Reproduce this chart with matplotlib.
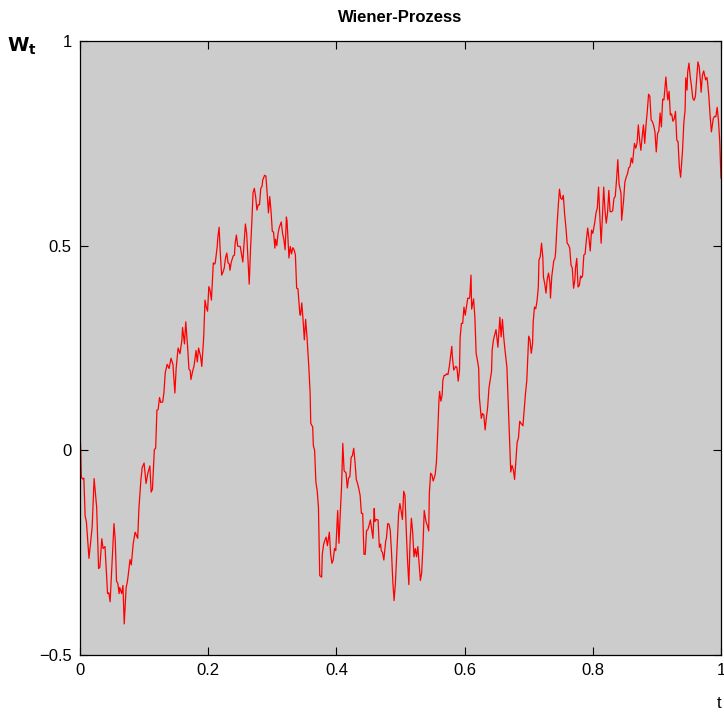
import matplotlib
import matplotlib.pyplot as plt
import numpy as np

matplotlib.use("Agg")

plt.rcParams["font.family"] = ["Liberation Sans", "DejaVu Sans"]

t = [
    0.000, 0.001, 0.002, 0.004, 0.006, 0.008, 0.010, 0.014, 0.019, 0.022,
    0.026, 0.029, 0.031, 0.034, 0.036, 0.039, 0.043, 0.045, 0.047, 0.053,
    0.055, 0.057, 0.059, 0.061, 0.062, 0.065, 0.067, 0.069, 0.072, 0.074,
    0.076, 0.078, 0.080, 0.083, 0.086, 0.090, 0.092, 0.095, 0.097, 0.100,
    0.103, 0.106, 0.109, 0.111, 0.113, 0.116, 0.118, 0.120, 0.122, 0.124,
    0.126, 0.129, 0.131, 0.133, 0.136, 0.139, 0.142, 0.145, 0.148, 0.150,
    0.153, 0.156, 0.159, 0.160, 0.163, 0.165, 0.168, 0.170, 0.172, 0.173,
    0.176, 0.178, 0.181, 0.183, 0.185, 0.188, 0.190, 0.193, 0.195, 0.197,
    0.199, 0.201, 0.203, 0.205, 0.208, 0.210, 0.211, 0.214, 0.215, 0.217,
    0.219, 0.221, 0.223, 0.225, 0.227, 0.229, 0.231, 0.233, 0.234, 0.236,
    0.239, 0.241, 0.242, 0.244, 0.246, 0.248, 0.250, 0.252, 0.254, 0.256,
    0.258, 0.260, 0.262, 0.264, 0.266, 0.268, 0.270, 0.272, 0.274, 0.276,
    0.278, 0.280, 0.282, 0.284, 0.285, 0.288, 0.290, 0.292, 0.294, 0.296,
    0.298, 0.300, 0.302, 0.304, 0.305, 0.307, 0.309, 0.311, 0.314, 0.316,
    0.318, 0.320, 0.322, 0.323, 0.326, 0.328, 0.330, 0.332, 0.334, 0.336,
    0.338, 0.340, 0.341, 0.343, 0.344, 0.346, 0.348, 0.350, 0.352, 0.354,
    0.357, 0.359, 0.360, 0.363, 0.364, 0.366, 0.368, 0.370, 0.372, 0.373,
    0.374, 0.377, 0.378, 0.380, 0.382, 0.384, 0.386, 0.389, 0.391, 0.393,
    0.395, 0.397, 0.399, 0.402, 0.404, 0.406, 0.408, 0.410, 0.412, 0.415,
    0.417, 0.419, 0.421, 0.423, 0.425, 0.427, 0.429, 0.431, 0.433, 0.435,
    0.437, 0.439, 0.441, 0.443, 0.445, 0.447, 0.449, 0.451, 0.453, 0.455,
    0.457, 0.459, 0.460, 0.462, 0.465, 0.467, 0.469, 0.470, 0.472, 0.474,
    0.477, 0.478, 0.480, 0.482, 0.484, 0.486, 0.488, 0.490, 0.492, 0.495,
    0.497, 0.499, 0.501, 0.503, 0.505, 0.507, 0.509, 0.511, 0.513, 0.515,
    0.517, 0.519, 0.521, 0.523, 0.525, 0.527, 0.529, 0.531, 0.533, 0.535,
    0.537, 0.540, 0.542, 0.544, 0.545, 0.547, 0.549, 0.551, 0.554, 0.556,
    0.558, 0.560, 0.561, 0.563, 0.565, 0.566, 0.568, 0.570, 0.572, 0.574,
    0.576, 0.578, 0.580, 0.581, 0.583, 0.586, 0.588, 0.590, 0.592, 0.593,
    0.595, 0.597, 0.599, 0.601, 0.603, 0.605, 0.607, 0.608, 0.610, 0.611,
    0.614, 0.616, 0.618, 0.620, 0.622, 0.623, 0.626, 0.628, 0.630, 0.632,
    0.634, 0.636, 0.638, 0.640, 0.642, 0.643, 0.645, 0.647, 0.649, 0.652,
    0.654, 0.655, 0.657, 0.659, 0.661, 0.663, 0.666, 0.668, 0.670, 0.672,
    0.674, 0.676, 0.678, 0.680, 0.682, 0.684, 0.686, 0.688, 0.691, 0.693,
    0.695, 0.697, 0.700, 0.702, 0.704, 0.706, 0.707, 0.709, 0.711, 0.713,
    0.715, 0.716, 0.718, 0.720, 0.722, 0.723, 0.725, 0.727, 0.729, 0.731,
    0.733, 0.734, 0.736, 0.739, 0.741, 0.742, 0.744, 0.746, 0.748, 0.750,
    0.752, 0.754, 0.756, 0.758, 0.760, 0.762, 0.764, 0.766, 0.768, 0.770,
    0.772, 0.773, 0.775, 0.777, 0.779, 0.781, 0.782, 0.784, 0.786, 0.788,
    0.790, 0.792, 0.794, 0.796, 0.798, 0.800, 0.803, 0.805, 0.807, 0.809,
    0.811, 0.813, 0.815, 0.817, 0.819, 0.821, 0.823, 0.825, 0.827, 0.829,
    0.831, 0.833, 0.835, 0.837, 0.839, 0.841, 0.844, 0.845, 0.848, 0.850,
    0.852, 0.854, 0.856, 0.858, 0.860, 0.862, 0.865, 0.867, 0.869, 0.871,
    0.873, 0.875, 0.877, 0.879, 0.881, 0.883, 0.885, 0.887, 0.889, 0.891,
    0.893, 0.895, 0.897, 0.899, 0.901, 0.903, 0.905, 0.907, 0.909, 0.911,
    0.914, 0.916, 0.917, 0.919, 0.921, 0.923, 0.925, 0.927, 0.929, 0.931,
    0.933, 0.935, 0.937, 0.940, 0.942, 0.944, 0.945, 0.947, 0.948, 0.950,
    0.952, 0.954, 0.956, 0.958, 0.960, 0.962, 0.964, 0.966, 0.968, 0.969,
    0.971, 0.973, 0.976, 0.978, 0.979, 0.981, 0.983, 0.985, 0.988, 0.990,
    0.992, 0.994, 0.996, 0.998, 1.000,
]

w = [
    0.042, 0.005, -0.065, -0.070, -0.068, -0.160, -0.175, -0.264, -0.187, -0.069,
    -0.139, -0.289, -0.285, -0.216, -0.240, -0.235, -0.350, -0.348, -0.370, -0.179,
    -0.220, -0.320, -0.325, -0.350, -0.335, -0.350, -0.330, -0.424, -0.335, -0.320,
    -0.295, -0.267, -0.280, -0.228, -0.200, -0.215, -0.140, -0.072, -0.042, -0.031,
    -0.081, -0.055, -0.038, -0.102, -0.095, 0.002, 0.005, 0.098, 0.100, 0.129,
    0.117, 0.118, 0.142, 0.190, 0.210, 0.200, 0.225, 0.210, 0.140, 0.200,
    0.250, 0.236, 0.270, 0.300, 0.260, 0.314, 0.250, 0.198, 0.195, 0.173,
    0.195, 0.207, 0.244, 0.216, 0.250, 0.230, 0.205, 0.277, 0.367, 0.350,
    0.340, 0.400, 0.390, 0.367, 0.458, 0.455, 0.458, 0.497, 0.520, 0.545,
    0.478, 0.428, 0.435, 0.445, 0.470, 0.482, 0.458, 0.455, 0.440, 0.460,
    0.475, 0.477, 0.506, 0.526, 0.499, 0.498, 0.498, 0.479, 0.460, 0.505,
    0.553, 0.530, 0.470, 0.406, 0.490, 0.556, 0.630, 0.640, 0.620, 0.587,
    0.600, 0.600, 0.640, 0.645, 0.660, 0.672, 0.670, 0.628, 0.580, 0.620,
    0.585, 0.535, 0.533, 0.494, 0.516, 0.500, 0.530, 0.545, 0.558, 0.530,
    0.515, 0.490, 0.570, 0.560, 0.470, 0.498, 0.480, 0.495, 0.490, 0.478,
    0.396, 0.395, 0.375, 0.332, 0.330, 0.360, 0.318, 0.270, 0.320, 0.280,
    0.203, 0.140, 0.066, 0.057, 0.012, 0.000, -0.078, -0.098, -0.139, -0.220,
    -0.306, -0.310, -0.254, -0.230, -0.220, -0.212, -0.233, -0.200, -0.254, -0.276,
    -0.268, -0.240, -0.245, -0.147, -0.227, -0.155, -0.090, 0.017, -0.050, -0.055,
    -0.092, -0.068, -0.064, -0.017, -0.013, 0.005, -0.028, -0.071, -0.081, -0.094,
    -0.110, -0.154, -0.154, -0.254, -0.254, -0.196, -0.194, -0.183, -0.170, -0.192,
    -0.215, -0.142, -0.174, -0.169, -0.170, -0.237, -0.229, -0.245, -0.250, -0.268,
    -0.220, -0.216, -0.179, -0.180, -0.195, -0.250, -0.320, -0.367, -0.326, -0.220,
    -0.155, -0.130, -0.148, -0.169, -0.100, -0.110, -0.196, -0.270, -0.328, -0.220,
    -0.166, -0.200, -0.260, -0.240, -0.260, -0.235, -0.275, -0.318, -0.300, -0.235,
    -0.147, -0.176, -0.184, -0.197, -0.105, -0.056, -0.060, -0.075, -0.060, -0.030,
    0.040, 0.122, 0.144, 0.120, 0.135, 0.170, 0.183, 0.183, 0.187, 0.185,
    0.203, 0.228, 0.254, 0.228, 0.196, 0.205, 0.203, 0.169, 0.195, 0.274,
    0.310, 0.310, 0.350, 0.330, 0.352, 0.372, 0.371, 0.374, 0.428, 0.345,
    0.370, 0.326, 0.237, 0.220, 0.200, 0.130, 0.078, 0.090, 0.086, 0.050,
    0.080, 0.106, 0.152, 0.172, 0.193, 0.245, 0.270, 0.282, 0.295, 0.252,
    0.303, 0.325, 0.277, 0.320, 0.277, 0.245, 0.203, 0.120, 0.040, -0.053,
    -0.037, -0.047, -0.071, -0.025, 0.020, 0.030, 0.071, 0.066, 0.060, 0.100,
    0.139, 0.170, 0.279, 0.270, 0.237, 0.260, 0.313, 0.350, 0.346, 0.365,
    0.399, 0.465, 0.473, 0.506, 0.473, 0.423, 0.407, 0.384, 0.420, 0.433,
    0.410, 0.372, 0.425, 0.462, 0.470, 0.484, 0.545, 0.594, 0.638, 0.616,
    0.613, 0.623, 0.578, 0.545, 0.506, 0.502, 0.494, 0.453, 0.445, 0.396,
    0.416, 0.445, 0.469, 0.399, 0.403, 0.426, 0.421, 0.426, 0.477, 0.480,
    0.514, 0.543, 0.518, 0.487, 0.538, 0.530, 0.556, 0.580, 0.592, 0.643,
    0.571, 0.506, 0.571, 0.643, 0.587, 0.555, 0.580, 0.635, 0.583, 0.583,
    0.585, 0.616, 0.620, 0.660, 0.710, 0.650, 0.628, 0.562, 0.610, 0.655,
    0.667, 0.675, 0.690, 0.693, 0.714, 0.702, 0.750, 0.738, 0.750, 0.795,
    0.758, 0.733, 0.766, 0.795, 0.750, 0.795, 0.828, 0.870, 0.865, 0.807,
    0.803, 0.793, 0.778, 0.729, 0.774, 0.780, 0.824, 0.790, 0.858, 0.856,
    0.912, 0.872, 0.856, 0.877, 0.819, 0.822, 0.804, 0.810, 0.828, 0.758,
    0.754, 0.692, 0.667, 0.733, 0.800, 0.832, 0.910, 0.880, 0.924, 0.946,
    0.913, 0.889, 0.860, 0.855, 0.864, 0.905, 0.949, 0.937, 0.900, 0.875,
    0.916, 0.927, 0.905, 0.911, 0.900, 0.866, 0.818, 0.778, 0.811, 0.816,
    0.815, 0.838, 0.807, 0.755, 0.665,
]

x_ticks = [0, 0.2, 0.4, 0.6, 0.8, 1]
x_labels = ["0", "0.2", "0.4", "0.6", "0.8", "1"]
y_ticks = [-0.5, 0, 0.5, 1]
y_labels = ["\u22120.5", "0", "0.5", "1"]

fig = plt.figure(figsize=(7.24, 7.15), dpi=100)
ax = fig.add_axes([80 / 724, 60 / 715, 641 / 724, 614 / 715])
ax.set_facecolor("#cccccc")

ax.plot(t, w, color="red", lw=0.9)

ax.set_xlim(0, 1)
ax.set_ylim(-0.5, 1)
ax.set_xticks(x_ticks)
ax.set_xticklabels(x_labels)
ax.set_yticks(y_ticks)
ax.set_yticklabels(y_labels)
ax.tick_params(direction="in", top=True, right=True, length=6, width=0.8, labelsize=12, pad=6)

for spine in ax.spines.values():
    spine.set_linewidth(0.9)

ax.set_title("Wiener-Prozess", fontsize=12, fontweight="bold", pad=14)
fig.text(22 / 724, 1 - 46 / 715, r"$\mathbf{W_t}$", fontsize=14, ha="center", va="center")
fig.text(719 / 724, 1 - 704 / 715, "t", fontsize=12, ha="center", va="center")

fig.savefig("out.png", dpi=100)
